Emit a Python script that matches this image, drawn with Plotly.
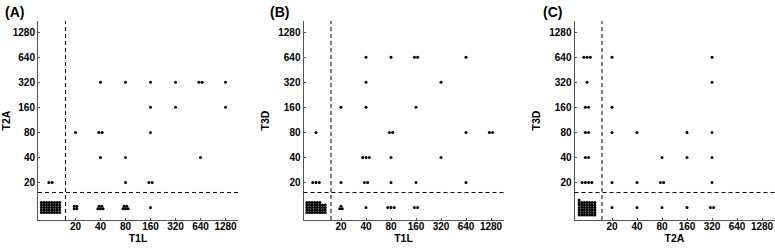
import math
import plotly.graph_objects as go

BELOW = 10  # plotted position of titers below 20 ("<20")
TICK_VALS = [20, 40, 80, 160, 320, 640, 1280]
TICK_TEXT = ["20", "40", "80", "160", "320", "640", "1280"]
THRESH = 10 * 2 ** 0.6

# Panel A: T1L (x) vs T2A (y); each cell = x titer, y titer, number of subjects
A_x = [40, 80, 160, 320, 640, 1280, 160, 320, 1280, 20, 40, 160, 40, 80, 640, 10, 80, 160, 10, 20, 40, 80, 160]
A_y = [320, 320, 320, 320, 320, 320, 160, 160, 160, 80, 80, 80, 40, 40, 40, 20, 20, 20, 10, 10, 10, 10, 10]
A_n = [1, 1, 1, 1, 2, 1, 1, 1, 1, 1, 2, 1, 1, 1, 1, 2, 1, 2, 40, 4, 5, 5, 1]

# Panel B: T1L (x) vs T3D (y)
B_x = [40, 80, 160, 640, 40, 320, 20, 40, 160, 10, 80, 640, 1280, 40, 80, 320, 10, 20, 40, 80, 160, 640, 10, 20, 40, 80, 160]
B_y = [640, 640, 640, 640, 320, 320, 160, 160, 160, 80, 80, 80, 80, 40, 40, 40, 20, 20, 20, 20, 20, 20, 10, 10, 10, 10, 10]
B_n = [1, 1, 2, 1, 1, 1, 1, 1, 1, 1, 2, 1, 2, 3, 1, 1, 3, 1, 2, 1, 1, 1, 38, 3, 1, 3, 2]

# Panel C: T2A (x) vs T3D (y)
C_x = [10, 20, 320, 10, 320, 10, 20, 10, 20, 40, 160, 320, 10, 80, 160, 320, 10, 20, 40, 80, 320, 10, 20, 40, 80, 160, 320]
C_y = [640, 640, 640, 320, 320, 160, 160, 80, 80, 80, 80, 80, 40, 40, 40, 40, 20, 20, 20, 20, 20, 10, 10, 10, 10, 10, 10]
C_n = [3, 1, 1, 1, 1, 2, 1, 2, 1, 1, 1, 1, 2, 1, 1, 1, 4, 1, 1, 2, 1, 43, 1, 1, 1, 1, 2]

# columns used when a crowded cell is stacked as a block
A_cols = {(10, 10): 8, (20, 10): 2, (40, 10): 3, (80, 10): 3}
B_cols = {(10, 10): 8, (20, 10): 2}
C_cols = {(10, 10): 7}

PANELS = [
    ("(A)", "T1L", "T2A", A_x, A_y, A_n, A_cols),
    ("(B)", "T1L", "T3D", B_x, B_y, B_n, B_cols),
    ("(C)", "T2A", "T3D", C_x, C_y, C_n, C_cols),
]


def spread(xs, ys, ns, cols):
    px, py = [], []
    for x, y, n in zip(xs, ys, ns):
        nc = cols.get((x, y))
        if nc is None:
            for j in range(n):
                off = (j - (n - 1) / 2) * 0.13
                px.append(x * 2 ** off)
                py.append(y)
        else:
            rows = math.ceil(n / nc)
            for r in range(rows):
                c = min(nc, n - r * nc)
                for j in range(c):
                    if nc <= 3:
                        xo = (j - (c - 1) / 2) * 0.105
                    else:
                        xo = (j - (nc - 1) / 2) * 0.105
                    yo = (r - (rows - 1) / 2) * 0.1
                    px.append(x * 2 ** xo)
                    py.append(y * 2 ** yo)
    return px, py


W, H = 775, 250
x_px = [(38, 238), (303.5, 503.5), (574.5, 774.5)]
y_top, y_bot = 21, 220
label_x = [2.5, 267.5, 541]

FONT = "Liberation Sans, Arial, Helvetica, sans-serif"
lo = math.log10(10 * 2 ** -0.5)
hi = math.log10(10 * 2 ** 7.5)

fig = go.Figure()
shapes = []
annotations = []
for i, (lab, xt, yt, xs, ys, ns, cols) in enumerate(PANELS):
    sfx = "" if i == 0 else str(i + 1)
    px, py = spread(xs, ys, ns, cols)
    fig.add_trace(go.Scatter(
        x=px, y=py, mode="markers", xaxis="x" + sfx, yaxis="y" + sfx,
        marker=dict(color="black", size=3, line=dict(width=0)),
        showlegend=False, hoverinfo="skip",
    ))
    axcommon = dict(
        type="log", range=[lo, hi], tickvals=TICK_VALS, ticktext=TICK_TEXT,
        showgrid=False, zeroline=False, showline=True, linecolor="#555",
        linewidth=1, ticks="inside", ticklen=2, tickcolor="#555",
        tickfont=dict(family=FONT, size=10, color="black", weight="bold"),
        fixedrange=True,
    )
    fig.layout["xaxis" + sfx] = dict(
        axcommon, domain=[x_px[i][0] / W, x_px[i][1] / W], anchor="y" + sfx,
        ticklabelstandoff=-3,
        title=dict(text=xt, font=dict(family=FONT, size=10.5, color="black", weight="bold"), standoff=3),
    )
    fig.layout["yaxis" + sfx] = dict(
        axcommon, domain=[1 - y_bot / H, 1 - y_top / H], anchor="x" + sfx,
        range=[lo, math.log10(10 * 2 ** 7.45)],
        title=dict(text=yt, font=dict(family=FONT, size=10.5, color="black", weight="bold"), standoff=6),
    )
    xr = "x" + sfx
    yr = "y" + sfx
    shapes.append(dict(type="line", xref=xr, yref=yr + " domain", x0=THRESH, x1=THRESH, y0=0, y1=1,
                       line=dict(color="black", width=1, dash="4px,3px")))
    shapes.append(dict(type="line", xref=xr + " domain", yref=yr, x0=0, x1=1, y0=THRESH, y1=THRESH,
                       line=dict(color="black", width=1, dash="4px,3px")))
    annotations.append(dict(
        text=lab, xref="paper", yref="paper", x=label_x[i] / W, y=1 - 12 / H,
        xanchor="left", yanchor="middle", showarrow=False,
        font=dict(family=FONT, size=14, color="black", weight="bold"),
    ))

fig.update_layout(
    width=W, height=H, margin=dict(l=0, r=0, t=0, b=0),
    paper_bgcolor="white", plot_bgcolor="white",
    shapes=shapes, annotations=annotations,
)
fig.write_html("out.html", config={"displayModeBar": False},
               post_script="document.body.style.margin='0';")
